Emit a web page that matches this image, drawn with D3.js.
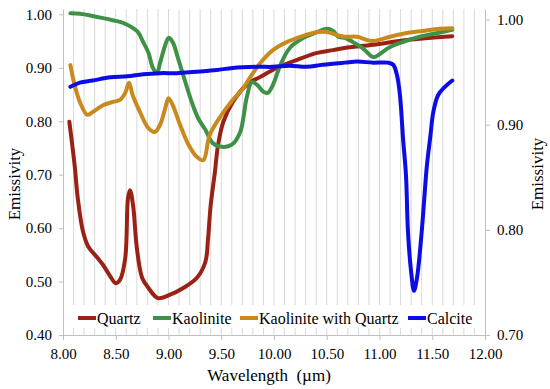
<!DOCTYPE html>
<html>
<head>
<meta charset="utf-8">
<script src="https://cdn.jsdelivr.net/npm/d3@7"></script>
<style>
  body { margin: 0; background: #fff; }
  svg text { font-family: "Liberation Serif", "DejaVu Serif", "Noto Serif", Times, serif; }
</style>
</head>
<body>
<div id="chart"></div>
<script>
// values: [wavelength µm, emissivity]
const quartz = [
  [8.06, 0.799], [8.11, 0.718], [8.14, 0.656], [8.19, 0.593], [8.24, 0.565], [8.32, 0.546],
  [8.38, 0.531], [8.45, 0.509], [8.50, 0.497], [8.54, 0.503], [8.59, 0.544], [8.616, 0.656],
  [8.635, 0.671], [8.664, 0.643], [8.70, 0.563], [8.75, 0.507], [8.81, 0.488], [8.90, 0.469],
  [9.01, 0.475], [9.14, 0.488], [9.27, 0.507], [9.35, 0.537], [9.374, 0.578], [9.40, 0.643],
  [9.44, 0.705], [9.47, 0.756], [9.52, 0.799], [9.61, 0.836], [9.74, 0.868], [9.87, 0.883],
  [10.03, 0.900], [10.22, 0.915], [10.41, 0.928], [10.56, 0.933], [10.67, 0.937], [10.94, 0.943],
  [11.26, 0.952], [11.69, 0.959]
]
const kaolinite = [
  [8.07, 1.002], [8.16, 1.001], [8.28, 0.997], [8.38, 0.993], [8.47, 0.989], [8.57, 0.984],
  [8.65, 0.976], [8.71, 0.967], [8.76, 0.948], [8.81, 0.928], [8.85, 0.901], [8.89, 0.890],
  [8.92, 0.909], [8.97, 0.943], [9.00, 0.956], [9.04, 0.948], [9.09, 0.918], [9.16, 0.873],
  [9.22, 0.836], [9.28, 0.806], [9.35, 0.784], [9.42, 0.759], [9.52, 0.752], [9.60, 0.756],
  [9.68, 0.780], [9.74, 0.843], [9.79, 0.873], [9.84, 0.868], [9.90, 0.855], [9.94, 0.853],
  [9.99, 0.868], [10.06, 0.905], [10.15, 0.937], [10.28, 0.956], [10.41, 0.967], [10.50, 0.973],
  [10.56, 0.969], [10.61, 0.958], [10.67, 0.956], [10.75, 0.948], [10.84, 0.937], [10.94, 0.920],
  [10.99, 0.924], [11.10, 0.939], [11.22, 0.948], [11.38, 0.958], [11.55, 0.965], [11.69, 0.971]
]
const kaoliniteQuartz = [
  [8.07, 0.905], [8.11, 0.868], [8.16, 0.836], [8.23, 0.812], [8.28, 0.817], [8.38, 0.830],
  [8.47, 0.836], [8.54, 0.840], [8.59, 0.853], [8.626, 0.872], [8.66, 0.849], [8.73, 0.817],
  [8.81, 0.787], [8.87, 0.780], [8.92, 0.793], [8.97, 0.825], [9.00, 0.843], [9.04, 0.830],
  [9.11, 0.793], [9.19, 0.756], [9.27, 0.733], [9.33, 0.727], [9.39, 0.774], [9.49, 0.808],
  [9.61, 0.840], [9.71, 0.862], [9.77, 0.881], [9.87, 0.909], [9.99, 0.933], [10.12, 0.948],
  [10.25, 0.958], [10.37, 0.965], [10.50, 0.967], [10.60, 0.961], [10.67, 0.958], [10.79, 0.958],
  [10.88, 0.952], [10.94, 0.950], [11.10, 0.958], [11.26, 0.965], [11.41, 0.969], [11.57, 0.973],
  [11.69, 0.974]
]
// calcite sits on the right axis
const calcite = [
  [8.07, 0.936], [8.16, 0.940], [8.28, 0.942], [8.45, 0.945], [8.61, 0.946], [8.76, 0.948],
  [8.92, 0.949], [9.08, 0.949], [9.23, 0.950], [9.35, 0.951], [9.46, 0.952], [9.61, 0.954],
  [9.84, 0.955], [9.99, 0.955], [10.15, 0.956], [10.31, 0.955], [10.46, 0.957], [10.67, 0.959],
  [10.79, 0.960], [10.94, 0.959], [11.08, 0.959], [11.13, 0.957], [11.166, 0.947], [11.194, 0.928],
  [11.223, 0.887], [11.251, 0.852], [11.27, 0.798], [11.30, 0.760], [11.327, 0.742], [11.355, 0.754],
  [11.40, 0.798], [11.45, 0.862], [11.48, 0.887], [11.51, 0.912], [11.555, 0.928], [11.62, 0.936],
  [11.69, 0.942]
]

const seriesNames = ['Quartz', 'Kaolinite', 'Kaolinite with Quartz', 'Calcite']
const xTicks = [8.0, 8.5, 9.0, 9.5, 10.0, 10.5, 11.0, 11.5, 12.0]
const leftTicks = [0.4, 0.5, 0.6, 0.7, 0.8, 0.9, 1.0]
const rightTicks = [0.7, 0.8, 0.9, 1.0]
const xTitle = 'Wavelength\u00a0 (µm)'
const yTitle = 'Emissivity'

const width = 550, height = 389
const plotL = 63, plotR = 485, plotT = 9, plotB = 335
const serif = '"Liberation Serif", "DejaVu Serif", "Noto Serif", Times, serif'

const x = d3.scaleLinear().domain([8, 12]).range([plotL, plotR])
const yL = d3.scaleLinear().domain([0.4, 1.01]).range([plotB, plotT])
const yR = d3.scaleLinear().domain([0.7, 1.01]).range([plotB, plotT])

const series = [
  { name: seriesNames[0], data: quartz, color: '#9a2116', y: yL },
  { name: seriesNames[1], data: kaolinite, color: '#3f9148', y: yL },
  { name: seriesNames[2], data: kaoliniteQuartz, color: '#c98a1d', y: yL },
  { name: seriesNames[3], data: calcite, color: '#0c0ce6', y: yR }
]

let svg = d3.select('#chart')
            .append('svg')
                .attr('width', width)
                .attr('height', height)
                .attr('font-family', serif)

// minor vertical grid every 0.1
svg.append('g')
    .selectAll('line')
    .data(d3.range(81, 120).map(d => d / 10))
    .enter()
    .append('line')
        .attr('x1', d => x(d)).attr('x2', d => x(d))
        .attr('y1', plotT).attr('y2', plotB)
        .attr('stroke', '#d9d9d9')
        .attr('stroke-width', 1)

const styleAxis = g => {
    g.attr('font-family', serif).attr('font-size', 15)
    g.selectAll('.domain').attr('stroke', '#bfbfbf')
    g.selectAll('.tick line').attr('stroke', '#bfbfbf')
    g.selectAll('.tick text').attr('fill', '#000')
}

svg.append('g')
    .attr('transform', `translate(0,${plotB})`)
    .call(d3.axisBottom(x).tickValues(xTicks).tickFormat(d3.format('.2f')).tickSize(5).tickSizeOuter(0).tickPadding(8))
    .call(styleAxis)

svg.append('g')
    .attr('transform', `translate(${plotL},0)`)
    .call(d3.axisLeft(yL).tickValues(leftTicks).tickFormat(d3.format('.2f')).tickSize(4).tickSizeOuter(0).tickPadding(7))
    .call(styleAxis)

svg.append('g')
    .attr('transform', `translate(${plotR},0)`)
    .call(d3.axisRight(yR).tickValues(rightTicks).tickFormat(d3.format('.2f')).tickSize(5).tickSizeOuter(0).tickPadding(7))
    .call(styleAxis)

// legend box sits over the grid
svg.append('rect')
    .attr('x', 68).attr('y', 305)
    .attr('width', 412).attr('height', 23)
    .attr('fill', '#fff')

svg.append('g')
    .selectAll('path')
    .data(series)
    .enter()
    .append('path')
        .attr('d', s => d3.line().curve(d3.curveCatmullRom.alpha(0.5))
                          .x(d => x(d[0])).y(d => s.y(d[1]))(s.data))
        .attr('fill', 'none')
        .attr('stroke', s => s.color)
        .attr('stroke-width', 4)
        .attr('stroke-linejoin', 'round')
        .attr('stroke-linecap', 'round')

const legendX = [78, 153, 240, 408]
let items = svg.append('g')
                .selectAll('g')
                .data(series)
                .enter()
                .append('g')
                    .attr('transform', (s, i) => `translate(${legendX[i]},318)`)

items.append('line')
    .attr('x1', 0).attr('x2', 18)
    .attr('stroke', s => s.color)
    .attr('stroke-width', 4)

items.append('text')
    .attr('x', 19)
    .attr('dy', '0.35em')
    .attr('font-size', 16)
    .text(s => s.name)

svg.append('text')
    .attr('x', 269).attr('y', 375)
    .attr('dy', '0.35em')
    .attr('text-anchor', 'middle')
    .attr('font-size', 17)
    .text(xTitle)

svg.append('text')
    .attr('transform', 'translate(14,184) rotate(-90)')
    .attr('dy', '0.35em')
    .attr('text-anchor', 'middle')
    .attr('font-size', 17)
    .text(yTitle)

svg.append('text')
    .attr('transform', 'translate(537,174) rotate(-90)')
    .attr('dy', '0.35em')
    .attr('text-anchor', 'middle')
    .attr('font-size', 17)
    .text(yTitle)
</script>
</body>
</html>
